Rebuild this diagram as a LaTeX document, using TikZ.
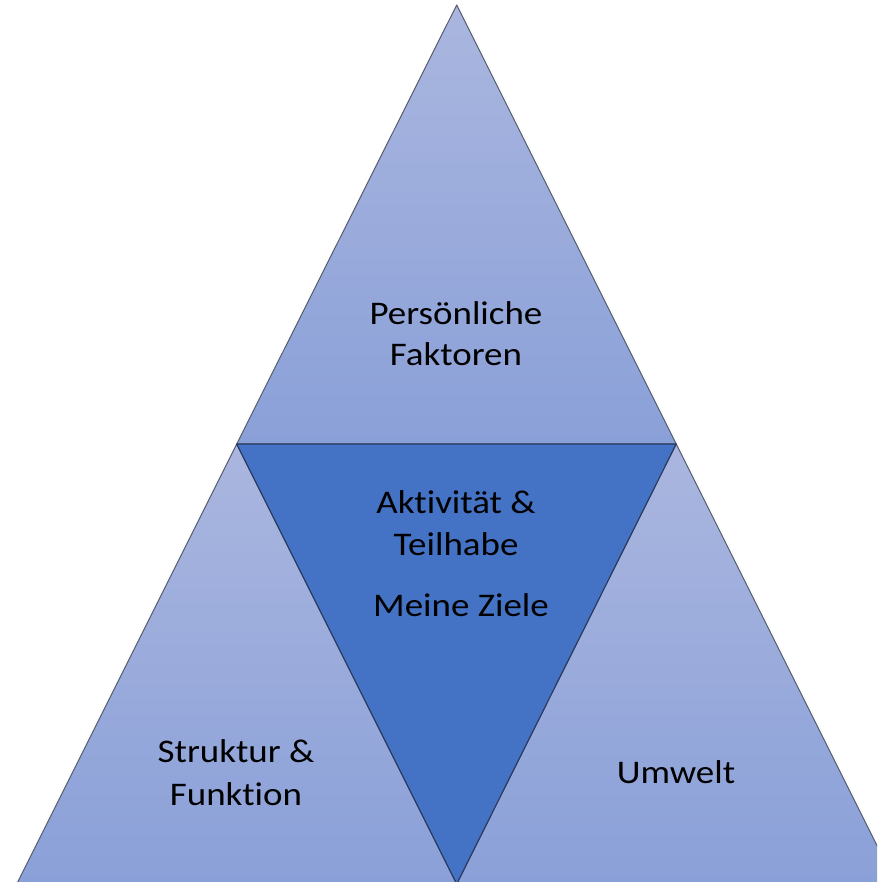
\documentclass[tikz,border=0pt]{standalone}
\usepackage{fontspec}
\newfontfamily\lbl[FakeStretch=1.12,Ligatures=NoCommon]{Carlito}
\definecolor{lighttop}{RGB}{170,182,223}
\definecolor{lightbot}{RGB}{138,160,216}
\definecolor{midblue}{RGB}{68,114,196}
\definecolor{edgegray}{RGB}{85,92,110}
\definecolor{edgedark}{RGB}{40,56,92}
\begin{document}
\begin{tikzpicture}[x=1pt,y=-1pt,
  lighttri/.style={top color=lighttop,bottom color=lightbot,draw=edgegray,line width=1pt,line join=round},
  darktri/.style={fill=midblue,draw=edgedark,line width=1.1pt,line join=round},
  lbltext/.style={inner sep=0pt,anchor=base,font=\lbl\fontsize{33}{41}\selectfont,text=black}]
\useasboundingbox (0,0) rectangle (877,882);
\clip (0,0) rectangle (877,882);
% corner points
\coordinate (apex) at (456.7,5);
\coordinate (jl) at (236.7,444);
\coordinate (jr) at (676.2,444);
\coordinate (bl) at (16.7,884);
\coordinate (bm) at (456.7,884);
\coordinate (br) at (896.2,884);
% light triangles
\shade[lighttri] (apex) -- (jr) -- (jl) -- cycle;
\shade[lighttri] (jl) -- (bm) -- (bl) -- cycle;
\shade[lighttri] (jr) -- (br) -- (bm) -- cycle;
% inverted triangle
\draw[darktri] (jl) -- (jr) -- (bm) -- cycle;
% labels
\node[lbltext] (pf1) at (456,324) {Persönliche};
\node[lbltext] (pf2) at (456,365) {Faktoren};
\node[lbltext] (at1) at (456,513) {Aktivität \&};
\node[lbltext] (at2) at (456,555) {Teilhabe};
\node[lbltext] (mz) at (461,616) {Meine Ziele};
\node[lbltext] (sf1) at (236,762) {Struktur \&};
\node[lbltext] (sf2) at (236,805) {Funktion};
\node[lbltext] (uw) at (676,783) {Umwelt};
\end{tikzpicture}
\end{document}
